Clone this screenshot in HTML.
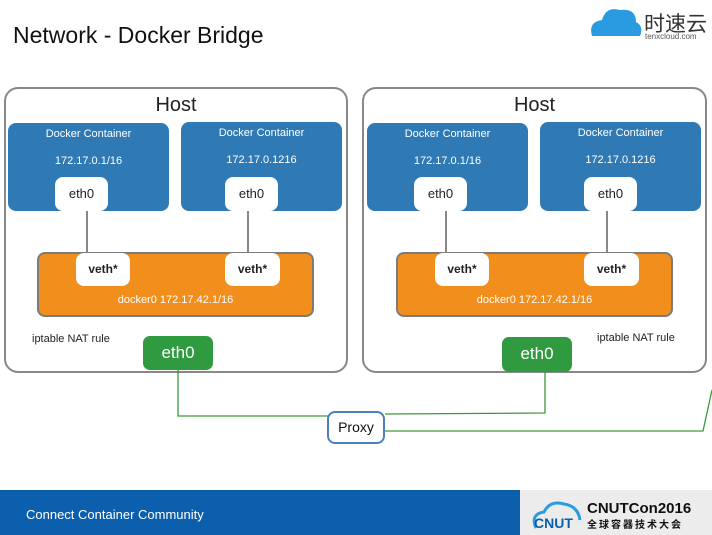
<!DOCTYPE html>
<html><head><meta charset="utf-8"><style>
body{margin:0;width:712px;height:535px;position:relative;overflow:hidden;background:#fff;font-family:"Liberation Sans","Noto Sans CJK SC",sans-serif}
div{position:absolute;box-sizing:border-box}
.host{border:2px solid #888;border-radius:14px;background:#fff}
.ht{font-size:20px;color:#222;text-align:center;width:100%;top:5px}
.dc{background:#2f7ab5;border-radius:8px;color:#fff;font-size:11px;text-align:center}
.w{background:#fff;border-radius:8px;text-align:center;font-size:13px;color:#222}
.or{background:#f18e1c;border:2px solid #7b7b7b;border-radius:8px;color:#fff;font-size:11px;text-align:center}
.g{background:#2f9a3f;border-radius:7px;color:#fff;font-size:17px;text-align:center;line-height:34px}
.ln{background:#888}
</style></head><body>
<div style="left:13px;top:22px;font-size:23px;color:#111">Network - Docker Bridge</div>
<svg style="position:absolute;left:588px;top:4px" width="56" height="34"><path d="M4 32 Q0 18 14 16 Q18 2 32 6 Q48 4 48 18 Q56 22 52 32Z" fill="#2a9be0"/></svg>
<div style="left:644px;top:8px;font-size:21px;color:#333">时速云</div>
<div style="left:645px;top:32px;font-size:8px;color:#555">tenxcloud.com</div>

<!-- left host -->
<div class="host" style="left:4px;top:87px;width:344px;height:286px"><div class="ht">Host</div></div>
<div class="host" style="left:362px;top:87px;width:345px;height:286px"><div class="ht">Host</div></div>

<div class="ln" style="left:86px;top:208px;width:2px;height:46px"></div>
<div class="ln" style="left:247px;top:208px;width:2px;height:46px"></div>
<div class="ln" style="left:445px;top:208px;width:2px;height:46px"></div>
<div class="ln" style="left:606px;top:208px;width:2px;height:46px"></div>

<div class="dc" style="left:8px;top:123px;width:161px;height:88px"><div style="width:100%;top:5px">Docker Container</div><div style="width:100%;top:32px">172.17.0.1/16</div></div>
<div class="dc" style="left:181px;top:122px;width:161px;height:89px"><div style="width:100%;top:5px">Docker Container</div><div style="width:100%;top:32px">172.17.0.1216</div></div>
<div class="w" style="left:55px;top:177px;width:53px;height:34px;line-height:34px">eth0</div>
<div class="w" style="left:225px;top:177px;width:53px;height:34px;line-height:34px">eth0</div>
<div class="or" style="left:37px;top:252px;width:277px;height:65px"><div style="width:100%;top:40px">docker0 172.17.42.1/16</div></div>
<div class="w" style="left:76px;top:253px;width:54px;height:33px;line-height:33px;font-weight:bold;font-size:12px">veth*</div>
<div class="w" style="left:225px;top:253px;width:55px;height:33px;line-height:33px;font-weight:bold;font-size:12px">veth*</div>
<div style="left:32px;top:333px;font-size:11px;color:#222">iptable NAT rule</div>
<div class="g" style="left:143px;top:336px;width:70px;height:34px">eth0</div>

<div class="dc" style="left:367px;top:123px;width:161px;height:88px"><div style="width:100%;top:5px">Docker Container</div><div style="width:100%;top:32px">172.17.0.1/16</div></div>
<div class="dc" style="left:540px;top:122px;width:161px;height:89px"><div style="width:100%;top:5px">Docker Container</div><div style="width:100%;top:32px">172.17.0.1216</div></div>
<div class="w" style="left:414px;top:177px;width:53px;height:34px;line-height:34px">eth0</div>
<div class="w" style="left:584px;top:177px;width:53px;height:34px;line-height:34px">eth0</div>
<div class="or" style="left:396px;top:252px;width:277px;height:65px"><div style="width:100%;top:40px">docker0 172.17.42.1/16</div></div>
<div class="w" style="left:435px;top:253px;width:54px;height:33px;line-height:33px;font-weight:bold;font-size:12px">veth*</div>
<div class="w" style="left:584px;top:253px;width:55px;height:33px;line-height:33px;font-weight:bold;font-size:12px">veth*</div>
<div style="left:597px;top:332px;font-size:11px;color:#222">iptable NAT rule</div>
<div class="g" style="left:502px;top:337px;width:70px;height:35px">eth0</div>

<svg style="position:absolute;left:0;top:0" width="712" height="535"><g fill="none" stroke="#3a9a3a" stroke-width="1.3">
<polyline points="178,370 178,416 328,416"/>
<polyline points="545,372 545,413 385,414"/>
<polyline points="385,431 703,431 712,390"/></g></svg>
<div style="left:327px;top:411px;width:58px;height:33px;border:2px solid #4a7fc0;border-radius:8px;background:#fff;text-align:center;line-height:29px;font-size:14px;color:#111">Proxy</div>

<div style="left:0;top:490px;width:712px;height:45px;background:#ececec"></div>
<div style="left:0;top:490px;width:520px;height:45px;background:#0b5fac;border-radius:0 0 0 0"></div>
<svg style="position:absolute;left:495px;top:490px" width="30" height="45"><path d="M0 0 L25 0 Q8 22 20 45 L0 45Z" fill="#0b5fac"/></svg>
<div style="left:26px;top:507px;font-size:13px;color:#fff">Connect Container Community</div>
<svg style="position:absolute;left:528px;top:498px" width="60" height="34"><path d="M8 30 Q2 16 16 14 Q22 2 36 6 Q50 8 52 22" fill="none" stroke="#2a9be0" stroke-width="3"/><text x="6" y="30" font-family="Liberation Sans" font-weight="bold" font-size="14" fill="#0b5fac">CNUT</text></svg>
<div style="left:587px;top:500px;font-size:15px;font-weight:bold;color:#111">CNUTCon2016</div>
<div style="left:587px;top:516px;font-size:10px;font-weight:bold;color:#111;letter-spacing:2px">全球容器技术大会</div>
</body></html>
